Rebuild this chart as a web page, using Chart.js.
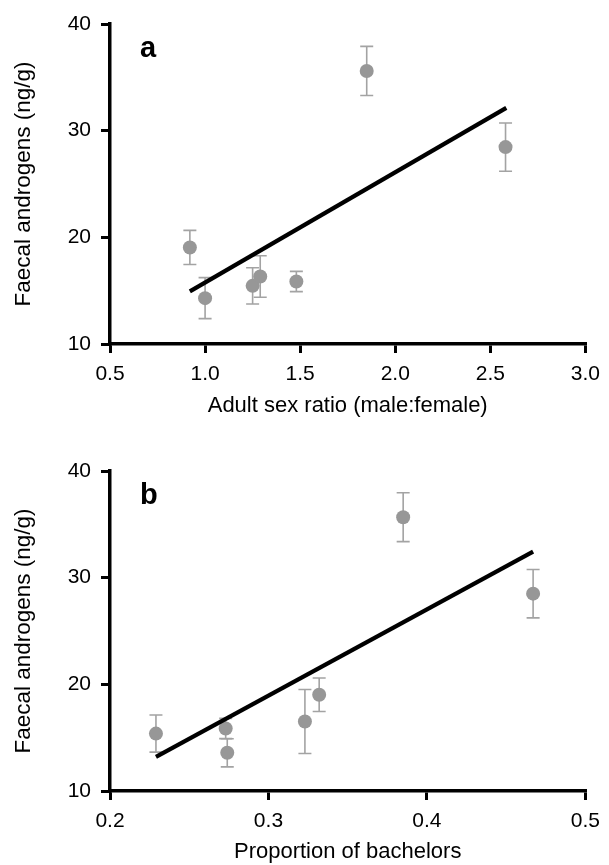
<!DOCTYPE html>
<html>
<head>
<meta charset="utf-8">
<script src="https://cdn.jsdelivr.net/npm/chart.js@4.4.1/dist/chart.umd.min.js"></script>
<style>
  html, body { margin: 0; padding: 0; background: #ffffff; }
  #wrap { position: relative; width: 609px; height: 865px; overflow: hidden; }
  canvas { position: absolute; left: 0; }
</style>
</head>
<body>
<div id="wrap">
  <canvas id="chartA" width="609" height="432" style="top:0px"></canvas>
  <canvas id="chartB" width="609" height="433" style="top:432px"></canvas>
</div>
<script>
// ---------- Panel a data ----------
const sexRatio   = [0.92, 1.00, 1.25, 1.29, 1.48, 1.85, 2.58];
const androgenA  = [19.05, 14.30, 15.45, 16.33, 15.86, 35.60, 28.46];
const errorA     = [1.60, 1.92, 1.70, 1.95, 0.95, 2.30, 2.26];
const fitAX      = [0.92, 2.584];
const fitAY      = [14.93, 32.14];
const xTicksA    = [0.5, 1.0, 1.5, 2.0, 2.5, 3.0];
const xLabelsA   = ['0.5', '1.0', '1.5', '2.0', '2.5', '3.0'];

// ---------- Panel b data ----------
const propBachelors = [0.229, 0.273, 0.274, 0.323, 0.332, 0.385, 0.467];
const androgenB     = [15.38, 15.86, 13.58, 16.52, 19.03, 35.67, 28.50];
const errorB        = [1.74, 0.95, 1.32, 3.00, 1.57, 2.29, 2.27];
const fitBX         = [0.229, 0.467];
const fitBY         = [13.20, 32.45];
const xTicksB       = [0.2, 0.3, 0.4, 0.5];
const xLabelsB      = ['0.2', '0.3', '0.4', '0.5'];

// ---------- Shared ----------
const yTicks  = [10, 20, 30, 40];
const yLabels = ['10', '20', '30', '40'];
const yTitle  = 'Faecal androgens (ng/g)';

const FONT = "'Liberation Sans', Arial, Helvetica, sans-serif";
Chart.defaults.font.family = FONT;
Chart.defaults.color = '#000';

function pts(xs, ys) { return xs.map((x, i) => ({ x: x, y: ys[i] })); }

function errorBarPlugin(xs, ys, errs) {
  return {
    id: 'errbars',
    beforeDatasetsDraw(chart) {
      const ctx = chart.ctx, sx = chart.scales.x, sy = chart.scales.y;
      ctx.save();
      ctx.strokeStyle = '#a3a3a3';
      ctx.lineWidth = 1.6;
      const cap = 6.5;
      xs.forEach((xv, i) => {
        const px = sx.getPixelForValue(xv);
        const pTop = sy.getPixelForValue(ys[i] + errs[i]);
        const pBot = sy.getPixelForValue(ys[i] - errs[i]);
        ctx.beginPath();
        ctx.moveTo(px, pTop); ctx.lineTo(px, pBot);
        ctx.moveTo(px - cap, pTop); ctx.lineTo(px + cap, pTop);
        ctx.moveTo(px - cap, pBot); ctx.lineTo(px + cap, pBot);
        ctx.stroke();
      });
      ctx.restore();
    }
  };
}

function letterPlugin(letter) {
  return {
    id: 'panelLetter',
    afterDraw(chart) {
      const ctx = chart.ctx, a = chart.chartArea;
      ctx.save();
      ctx.font = 'bold 29px ' + FONT;
      ctx.fillStyle = '#000';
      ctx.textAlign = 'left';
      ctx.textBaseline = 'alphabetic';
      ctx.fillText(letter, a.left + 30, a.top + 32.5);
      ctx.restore();
    }
  };
}

function makeChart(id, cfg) {
  const axisGrid = { display: true, drawOnChartArea: false, drawTicks: true, tickLength: 9,
                     color: '#000', lineWidth: 3, tickColor: '#000', tickWidth: 3 };
  const axisBorder = { display: true, color: '#000', width: 3.5 };
  return new Chart(document.getElementById(id), {
    type: 'scatter',
    data: {
      datasets: [
        {
          type: 'line',
          data: pts(cfg.fitX, cfg.fitY),
          showLine: true,
          borderColor: '#000',
          borderWidth: 4.2,
          pointRadius: 0,
          fill: false,
          tension: 0,
          borderCapStyle: 'butt'
        },
        {
          data: pts(cfg.xs, cfg.ys),
          pointRadius: 7,
          pointHoverRadius: 7,
          backgroundColor: '#979797',
          borderWidth: 0,
          pointBorderWidth: 0
        }
      ]
    },
    options: {
      responsive: false,
      animation: false,
      events: [],
      layout: { padding: { top: cfg.padTop, right: 18, bottom: 0, left: 0 } },
      plugins: { legend: { display: false }, tooltip: { enabled: false } },
      scales: {
        x: {
          type: 'linear',
          position: 'bottom',
          min: cfg.xTicks[0],
          max: cfg.xTicks[cfg.xTicks.length - 1],
          afterBuildTicks: (s) => { s.ticks = cfg.xTicks.map(v => ({ value: v })); },
          afterFit: (s) => { s.height = cfg.xAxisH; },
          ticks: {
            autoSkip: false, maxRotation: 0, padding: 9,
            font: { size: 21, lineHeight: 1.2 }, color: '#000',
            callback: (v, i) => cfg.xLabels[i]
          },
          grid: axisGrid,
          border: axisBorder,
          title: {
            display: true, text: cfg.xTitle, color: '#000',
            font: { size: 22, lineHeight: 1.0 },
            padding: { top: 0, bottom: cfg.xTitlePadBottom }
          }
        },
        y: {
          type: 'linear',
          position: 'left',
          min: 10, max: 40,
          afterBuildTicks: (s) => { s.ticks = yTicks.map(v => ({ value: v })); },
          afterFit: (s) => { s.width = 110; },
          ticks: {
            autoSkip: false, padding: 10,
            font: { size: 21, lineHeight: 1.2 }, color: '#000',
            callback: (v, i) => yLabels[i]
          },
          grid: axisGrid,
          border: axisBorder,
          title: {
            display: true, text: yTitle, color: '#000',
            font: { size: 22.5, lineHeight: 1.0 },
            padding: { top: 12.5, bottom: 0 }
          }
        }
      }
    },
    plugins: [errorBarPlugin(cfg.xs, cfg.ys, cfg.errs), letterPlugin(cfg.letter)]
  });
}

makeChart('chartA', {
  xs: sexRatio, ys: androgenA, errs: errorA, fitX: fitAX, fitY: fitAY,
  xTicks: xTicksA, xLabels: xLabelsA,
  xTitle: 'Adult sex ratio (male:female)',
  padTop: 24, xAxisH: 88, xTitlePadBottom: 15, letter: 'a'
});

makeChart('chartB', {
  xs: propBachelors, ys: androgenB, errs: errorB, fitX: fitBX, fitY: fitBY,
  xTicks: xTicksB, xLabels: xLabelsB,
  xTitle: 'Proportion of bachelors',
  padTop: 39, xAxisH: 74, xTitlePadBottom: 2, letter: 'b'
});
</script>
</body>
</html>
